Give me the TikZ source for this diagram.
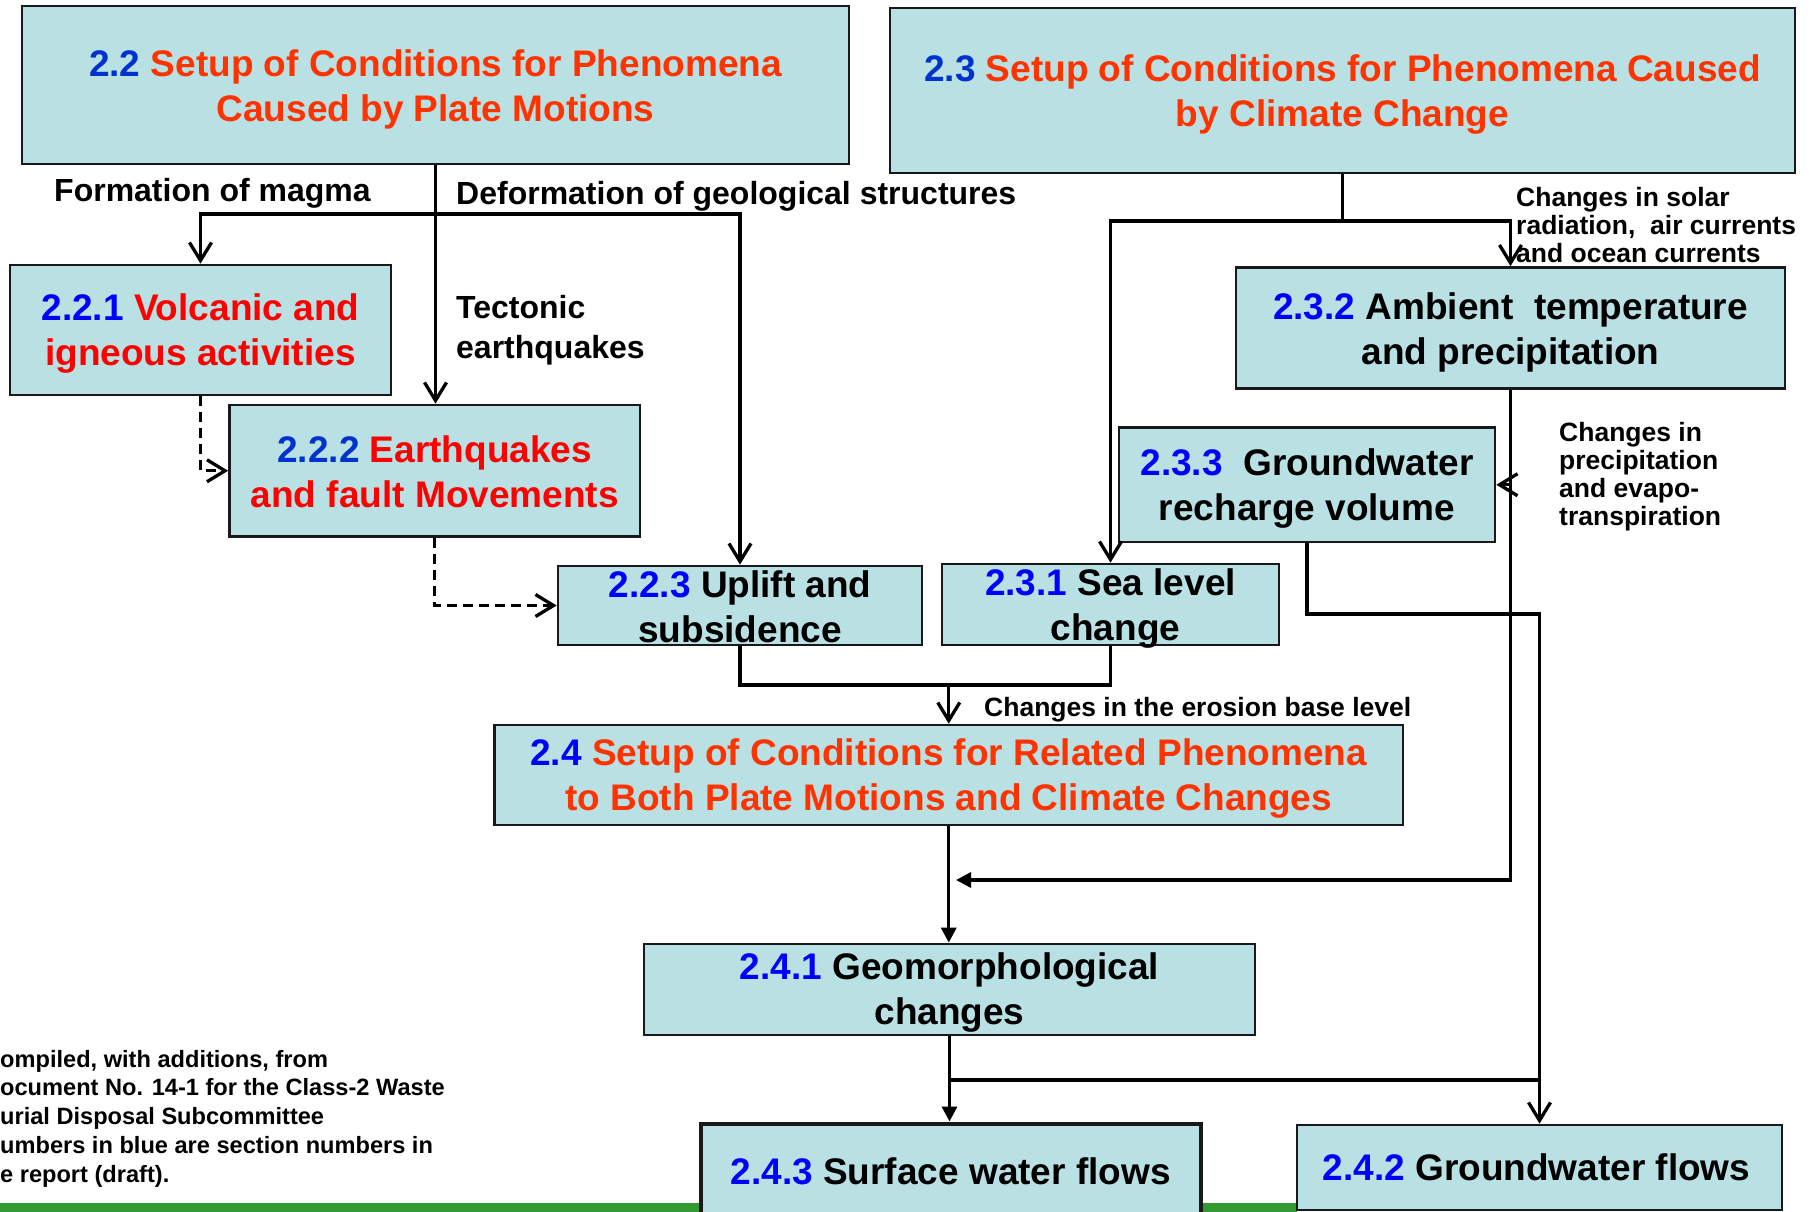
\documentclass[tikz,border=0pt]{standalone}
\usepackage{fontspec}
\setmainfont{Liberation Sans}
\usetikzlibrary{arrows.meta}

\definecolor{boxfill}{HTML}{B9E0E3}
\definecolor{numblue}{HTML}{0033CC}
\definecolor{pureblue}{HTML}{0000FF}
\definecolor{titleorange}{HTML}{FF3300}
\definecolor{purered}{HTML}{FF0000}
\definecolor{barGreen}{HTML}{339933}

\tikzset{
  box/.style={draw=black!90, line width=2.7pt, fill=boxfill, inner sep=0pt},
  caption/.style={inner sep=0pt, align=center, font=\fontsize{37}{45}\selectfont\bfseries},
  lbl/.style={inner sep=0pt, align=left, anchor=west,
    font=\fontsize{32}{40}\selectfont\bfseries},
  small/.style={inner sep=0pt, align=left, anchor=west,
    font=\fontsize{26.5}{27.8}\selectfont\bfseries},
  note/.style={inner sep=0pt, align=left, anchor=west,
    font=\fontsize{23.6}{28.7}\selectfont\bfseries},
  link/.style={line width=3.3pt},
  dashlink/.style={line width=3.3pt, dash pattern=on 10pt off 6pt},
  barb/.style={-{Straight Barb[length=18pt,width=22pt]}},
  tri/.style={-{Triangle[length=15pt,width=15pt]}}
}

\newcommand{\nb}[1]{\textcolor{numblue}{#1}}
\newcommand{\pb}[1]{\textcolor{pureblue}{#1}}
\newcommand{\tor}[1]{\textcolor{titleorange}{#1}}
\newcommand{\prd}[1]{\textcolor{purered}{#1}}

\begin{document}
\begin{tikzpicture}[x=1pt, y=-1pt]
\path[use as bounding box] (0,0) rectangle (1816,1212);
\clip (0,0) rectangle (1816,1212);

% green strip along the lower edge
\fill[barGreen] (0,1203) rectangle (1297,1212);

% boxes
\node[box, minimum width=827pt, minimum height=158pt] (v22) at (435.5,85) {};
\node[box, minimum width=905pt, minimum height=165pt] (v23) at (1342.5,90.5) {};
\node[box, minimum width=381pt, minimum height=130pt] (v221) at (200.5,330) {};
\node[box, minimum width=410.5pt, minimum height=131.5pt] (v222) at (434.75,470.75) {};
\node[box, minimum width=364pt, minimum height=79pt] (v223) at (740,605.5) {};
\node[box, minimum width=337pt, minimum height=81pt] (v231) at (1110.5,604.5) {};
\node[box, minimum width=549pt, minimum height=121pt] (v232) at (1510.5,328) {};
\node[box, minimum width=376pt, minimum height=114.5pt] (v233) at (1307,484.75) {};
\node[box, minimum width=908.5pt, minimum height=100pt] (v24) at (948.75,775) {};
\node[box, minimum width=611pt, minimum height=91pt] (v241) at (949.5,989.5) {};
\node[box, line width=4pt, minimum width=500.5pt, minimum height=95pt] (v243) at (950.75,1171) {};
\node[box, minimum width=485pt, minimum height=85pt] (v242) at (1539.5,1167.5) {};

% box captions
\node[caption] (t22) at ([yshift=-4pt]v22.center)
  {\nb{2.2} \tor{Setup of Conditions for Phenomena}\\\tor{Caused by Plate Motions}};
\node[caption] (t23) at ([yshift=-4pt]v23.center)
  {\nb{2.3} \tor{Setup of Conditions for Phenomena Caused}\\\tor{by Climate Change}};
\node[caption] (t221) at ([yshift=-4pt]v221.center)
  {\pb{2.2.1} \prd{Volcanic and}\\\prd{igneous activities}};
\node[caption] (t222) at ([yshift=-1pt]v222.center)
  {\nb{2.2.2} \prd{Earthquakes}\\\prd{and fault Movements}};
\node[caption] (t223) at ([yshift=-1pt]v223.center)
  {\pb{2.2.3} Uplift and\\subsidence};
\node[caption] (t231) at ([yshift=-4pt]v231.center)
  {\pb{2.3.1} Sea level\\\hspace*{10pt}change};
\node[caption] (t232) at ([yshift=-4pt]v232.center)
  {\pb{2.3.2} Ambient\ \ temperature\\and precipitation};
\node[caption] (t233) at ([yshift=-4pt]v233.center)
  {\pb{2.3.3}\ \ Groundwater\\recharge volume};
\node[caption] (t24) at ([yshift=-4pt]v24.center)
  {\pb{2.4} \tor{Setup of Conditions for Related Phenomena}\\\tor{to Both Plate Motions and Climate Changes}};
\node[caption] (t241) at ([yshift=-3pt]v241.center)
  {\pb{2.4.1} Geomorphological\\changes};
\node[caption] (t243) at (v243.center) {\pb{2.4.3} Surface water flows};
\node[caption] (t242) at ([xshift=-3pt]v242.center) {\pb{2.4.2} Groundwater flows};

% labels
\node[lbl] (lmagma) at (54,193) {Formation of magma};
\node[lbl] (ldeform) at (456,196) {Deformation of geological structures};
\node[lbl] (ltecto) at (456,330.5) {Tectonic\\earthquakes};
\node[small] (lsolar) at (1516,225) {Changes in solar\\radiation,\ \ air currents\\and ocean currents};
\node[small] (lprecip) at (1559,476.5) {Changes in\\precipitation\\and evapo-\\transpiration};
\node[small] (lerosion) at (984,710) {Changes in the erosion base level};
\node[note] (lnote) at (0,1118.5) {ompiled, with additions, from\\ocument No. 14-1 for the Class-2 Waste\\urial Disposal Subcommittee\\umbers in blue are section numbers in\\e report (draft).};

% plate motions branch
\coordinate (j22) at (435.5,214);
\draw[link] (v22.south) -- (j22);
\draw[link,barb] (j22) -| (v221.north);
\draw[link,barb] (j22) -| (v223.north);
\draw[link,barb] (j22) -- (j22 |- v222.north);
\draw[dashlink,barb] (v221.south) |- (v222.west);
\draw[dashlink,barb] (v222.south) |- (v223.west);

% climate change branch
\coordinate (j23) at (1342.5,221);
\draw[link] (v23.south) -- (j23);
\draw[link,barb] (j23) -| (v231.north);
\draw[link,barb] (j23) -| (v232.north);

% erosion base level
\coordinate (j24) at (948.75,685);
\draw[link] (v223.south) |- (j24) -| (v231.south);
\draw[link,barb] (j24) -- (v24.north);

% into geomorphological changes
\draw[link,tri] (v24.south) -- (v24.south |- v241.north);
\coordinate (a241) at (956,880);
\draw[link,tri] (v232.south) |- (a241);
\draw[link,barb] (v232.south |- v233.east) -- (v233.east);

% groundwater
\coordinate (j242) at (1539.5,614);
\draw[link,barb] (v233.south) |- (j242) -- (v242.north);

% surface water
\coordinate (j243) at (949.5,1080);
\draw[link,tri] (v241.south) -- (v241.south |- v243.north);
\draw[line width=4.3pt] (j243) -- (j243 -| v242.north);
\end{tikzpicture}
\end{document}
